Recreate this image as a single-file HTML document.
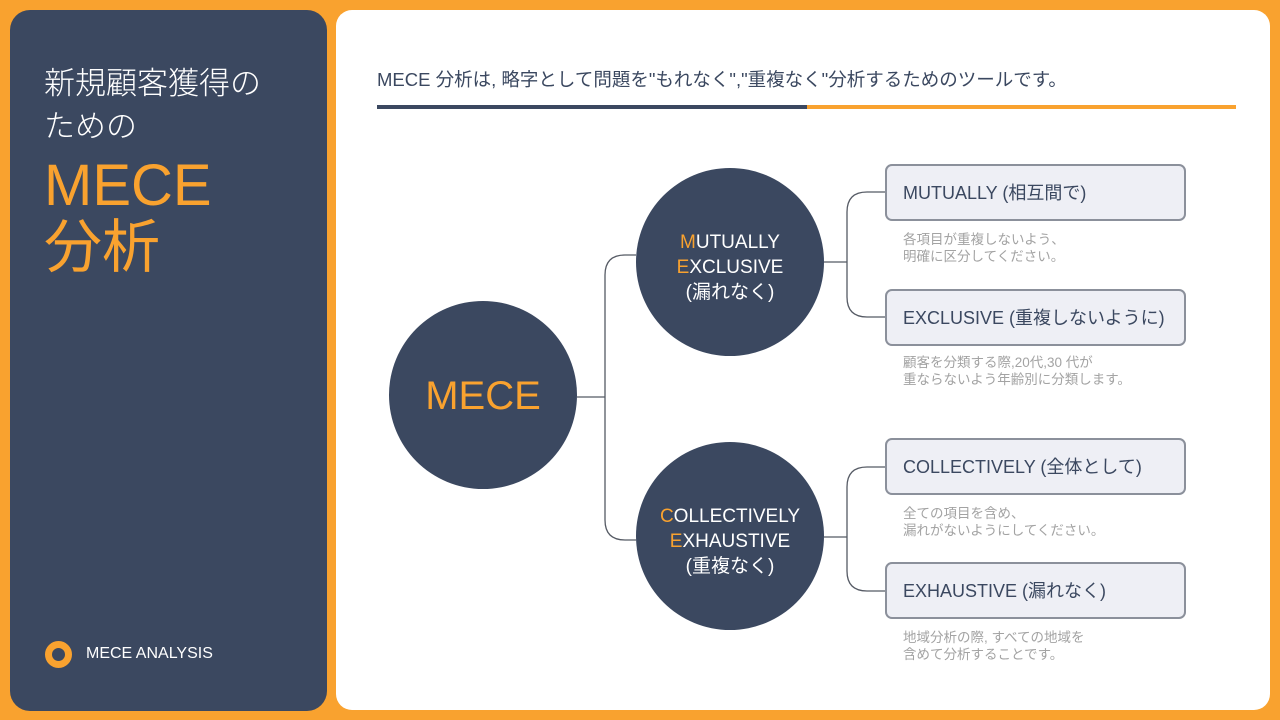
<!DOCTYPE html>
<html><head><meta charset="utf-8"><style>
*{margin:0;padding:0;box-sizing:border-box}
body{width:1280px;height:720px;background:#F9A22F;position:relative;overflow:hidden;font-family:"Liberation Sans","Noto Sans CJK JP",sans-serif}
.l{position:absolute;left:10px;top:10px;width:317px;height:701px;background:#3B4860;border-radius:20px}
.r{position:absolute;left:336px;top:10px;width:934px;height:700px;background:#fff;border-radius:16px}
.a{position:absolute;white-space:nowrap}
.box{position:absolute;left:885px;width:301px;height:57px;background:#EEEFF5;border:2px solid #8B909B;border-radius:7px;font-size:18px;color:#3B4860;padding-left:16px;line-height:54px}
.d{position:absolute;left:903px;font-size:13.5px;color:#A3A3A3;line-height:17px;white-space:nowrap}
.c{position:absolute;width:188px;height:188px;border-radius:50%;background:#3B4860;color:#fff;text-align:center;display:flex;align-items:center;justify-content:center;font-size:19px;line-height:25px}
.c>div{margin-top:10px}
.o{color:#F9A22F}
</style></head><body>
<div class="l"></div>
<div class="r"></div>
<div class="a" style="left:44px;top:62px;color:#fff;font-size:31px;line-height:43px;font-weight:300">新規顧客獲得の<br>ための</div>
<div class="a" style="left:44px;top:155px;color:#F9A22F;font-size:58px;line-height:62px">MECE<br>分析</div>
<div class="a" style="left:45px;top:641px;width:27px;height:27px;border-radius:50%;border:7px solid #F9A22F"></div>
<div class="a" style="left:86px;top:645px;color:#fff;font-size:16px">MECE ANALYSIS</div>
<div class="a" style="left:377px;top:66px;color:#3B4860;font-size:18.5px">MECE 分析は, 略字として問題を"もれなく","重複なく"分析するためのツールです。</div>
<div class="a" style="left:377px;top:105px;width:430px;height:4px;background:#3B4860"></div>
<div class="a" style="left:807px;top:105px;width:429px;height:4px;background:#F9A22F"></div>
<svg class="a" style="left:0;top:0" width="1280" height="720">
<g fill="none" stroke="#555A64" stroke-width="1.3">
<path d="M577 397 H605 M636 255 H625 Q605 255 605 275 V520 Q605 540 625 540 H636"/>
<path d="M824 262 H847 M885 192 H867 Q847 192 847 212 V297 Q847 317 867 317 H885"/>
<path d="M824 537 H847 M885 467 H867 Q847 467 847 487 V571 Q847 591 867 591 H885"/>
</g></svg>
<div class="c" style="left:389px;top:301px;font-size:40px;color:#F9A22F"><div style="margin-top:2px">MECE</div></div>
<div class="c" style="left:636px;top:168px"><div><span class="o">M</span>UTUALLY<br><span class="o">E</span>XCLUSIVE<br>(漏れなく)</div></div>
<div class="c" style="left:636px;top:442px"><div><span class="o">C</span>OLLECTIVELY<br><span class="o">E</span>XHAUSTIVE<br>(重複なく)</div></div>
<div class="box" style="top:164px">MUTUALLY (相互間で)</div>
<div class="d" style="top:231px">各項目が重複しないよう、<br>明確に区分してください。</div>
<div class="box" style="top:289px">EXCLUSIVE (重複しないように)</div>
<div class="d" style="top:354px">顧客を分類する際,20代,30 代が<br>重ならないよう年齢別に分類します。</div>
<div class="box" style="top:438px">COLLECTIVELY (全体として)</div>
<div class="d" style="top:505px">全ての項目を含め、<br>漏れがないようにしてください。</div>
<div class="box" style="top:562px">EXHAUSTIVE (漏れなく)</div>
<div class="d" style="top:629px">地域分析の際, すべての地域を<br>含めて分析することです。</div>
</body></html>
